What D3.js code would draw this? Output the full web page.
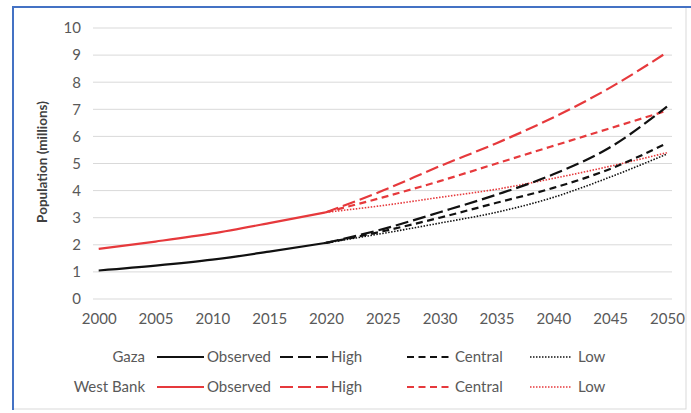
<!DOCTYPE html>
<html><head><meta charset="utf-8">
<script src="https://cdn.jsdelivr.net/npm/d3@7"></script>
<style>body{margin:0;background:#fff}svg{display:block}text{font-family:Lato,"Open Sans",sans-serif}</style>
</head><body><svg id="c" width="691" height="413"></svg>
<script>
const obsYears = [2000, 2005, 2010, 2015, 2020];
const gazaObserved = [1.05, 1.23, 1.45, 1.75, 2.07];
const wbObserved = [1.85, 2.12, 2.42, 2.8, 3.2];
const projYears = [2020, 2025, 2030, 2035, 2040, 2045, 2050];
const gazaHigh = [2.07, 2.58, 3.2, 3.85, 4.6, 5.6, 7.1];
const gazaCentral = [2.07, 2.5, 3.0, 3.55, 4.1, 4.8, 5.75];
const gazaLow = [2.07, 2.42, 2.8, 3.2, 3.75, 4.5, 5.35];
const wbHigh = [3.2, 4.0, 4.9, 5.75, 6.7, 7.8, 9.1];
const wbCentral = [3.2, 3.75, 4.35, 5.0, 5.65, 6.3, 6.95];
const wbLow = [3.2, 3.45, 3.75, 4.05, 4.45, 4.9, 5.4];
const xTicks = [2000, 2005, 2010, 2015, 2020, 2025, 2030, 2035, 2040, 2045, 2050];
const yTicks = [0, 1, 2, 3, 4, 5, 6, 7, 8, 9, 10];
const regions = ["Gaza", "West Bank"];
const scenarios = ["Observed", "High", "Central", "Low"];

const svg = d3.select("#c");
const BLACK = "#111", RED = "#e6393c", TXT = "#595959";
const x = d3.scaleLinear().domain([2000, 2050]).range([98.7, 667]);
const y = d3.scaleLinear().domain([0, 10]).range([299, 28]);

// frame
svg.append("rect").attr("x", 13).attr("y", 7).attr("width", 673).attr("height", 402)
  .attr("fill", "#fff").attr("stroke", "#d9d9d9").attr("stroke-width", 1);
svg.append("path").attr("d", "M13,410 L13,7 L691,7").attr("fill", "none").attr("stroke", "#4472c4").attr("stroke-width", 2);

// gridlines
svg.append("g").selectAll("line").data(yTicks).join("line")
  .attr("x1", 93).attr("x2", 672).attr("y1", d => y(d)).attr("y2", d => y(d))
  .attr("stroke", "#d9d9d9").attr("stroke-width", 1);

// y axis
const ya = svg.append("g").attr("transform", "translate(85,0)")
  .call(d3.axisLeft(y).tickValues(yTicks).tickSize(0).tickPadding(0).tickFormat(d3.format("d")));
ya.select(".domain").remove();
ya.selectAll("text").attr("font-size", 15).attr("fill", TXT).style("font-family", "Lato").attr("x", -4);

// x axis
const xa = svg.append("g").attr("transform", "translate(0,313)")
  .call(d3.axisBottom(x).tickValues(xTicks).tickSize(0).tickPadding(0).tickFormat(d3.format("d")));
xa.select(".domain").remove();
xa.selectAll("text").attr("font-size", 15).attr("fill", TXT).style("font-family", "Lato");

svg.append("text").attr("transform", "translate(47,162) rotate(-90)").attr("text-anchor", "middle")
  .attr("font-size", 13.5).attr("font-weight", "bold").attr("fill", "#404040").text("Population (millions)");

const styles = {
  Observed: null,
  High: "13,5",
  Central: "7,4.5",
  Low: "1.5,1.5"
};
const series = [
  {region: 0, sc: "Observed", yrs: obsYears, v: gazaObserved},
  {region: 0, sc: "High", yrs: projYears, v: gazaHigh},
  {region: 0, sc: "Central", yrs: projYears, v: gazaCentral},
  {region: 0, sc: "Low", yrs: projYears, v: gazaLow},
  {region: 1, sc: "Observed", yrs: obsYears, v: wbObserved},
  {region: 1, sc: "High", yrs: projYears, v: wbHigh},
  {region: 1, sc: "Central", yrs: projYears, v: wbCentral},
  {region: 1, sc: "Low", yrs: projYears, v: wbLow}
];
const line = d3.line().x(d => x(d[0])).y(d => y(d[1])).curve(d3.curveMonotoneX);
const order = [3, 7, 2, 6, 1, 5, 0, 4];
order.forEach(i => {
  const s = series[i];
  svg.append("path").attr("d", line(s.yrs.map((yr, j) => [yr, s.v[j]])))
    .attr("fill", "none").attr("stroke", s.region ? RED : BLACK)
    .attr("stroke-width", s.sc === "Low" ? 1.6 : 2.2)
    .attr("stroke-dasharray", styles[s.sc]);
});

// legend
const rowY = [357, 387];
const sampleX = {Observed: [157, 204], High: [280, 328], Central: [407, 452], Low: [530, 572]};
const textX = {Observed: 207, High: 331, Central: 455, Low: 578};
regions.forEach((r, ri) => {
  const g = svg.append("g");
  g.append("text").attr("x", 145).attr("y", rowY[ri]).attr("dy", "0.35em").attr("text-anchor", "end")
    .attr("font-size", 15).attr("fill", TXT).text(r);
  scenarios.forEach(sc => {
    g.append("line").attr("x1", sampleX[sc][0]).attr("x2", sampleX[sc][1]).attr("y1", rowY[ri]).attr("y2", rowY[ri])
      .attr("stroke", ri ? RED : BLACK).attr("stroke-width", sc === "Low" ? 1.6 : 2.2)
      .attr("stroke-dasharray", styles[sc]);
    g.append("text").attr("x", textX[sc]).attr("y", rowY[ri]).attr("dy", "0.35em")
      .attr("font-size", 15).attr("fill", TXT).text(sc);
  });
});
</script></body></html>
